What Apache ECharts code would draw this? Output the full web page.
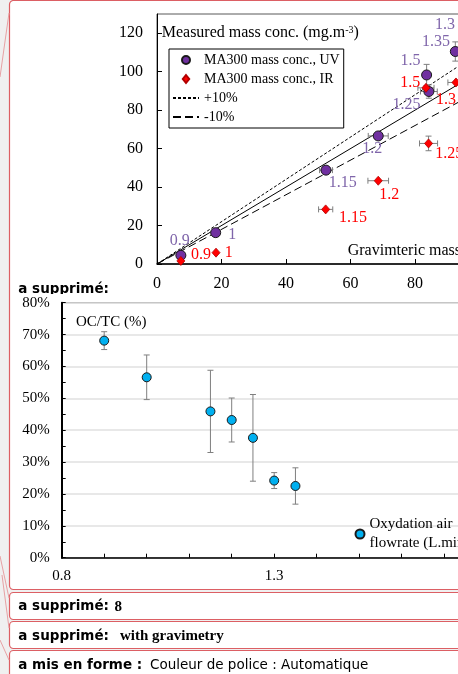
<!DOCTYPE html>
<html><head><meta charset="utf-8">
<script src="https://cdn.jsdelivr.net/npm/echarts@6/dist/echarts.min.js"></script>
<style>html,body{margin:0;padding:0;background:#f0f0f0}#c{width:458px;height:674px}</style>
</head><body><div id="c"></div>
<script>
// ---- Data: chart 1 (MA300 vs gravimetry) ----
const uvFlow    = [0.9, 1, 1.15, 1.2, 1.25, 1.3, 1.35, 1.5];
const uvGrav    = [7.4, 18.2, 52.4, 68.6, 84.3, 96.5, 92.5, 83.6];
const uvMeas    = [4.5, 16.3, 48.8, 66.6, 89.7, 117.5, 110.5, 98.3];
const uvGravErr = [0, 0, 2.0, 3.1, 2.6, 0, 0, 0];
const uvMeasErr = [0, 0, 0, 0, 3.5, 0, 5, 5.5];

const irFlow    = [0.9, 1, 1.15, 1.2, 1.25, 1.3, 1.5];
const irGrav    = [7.4, 18.3, 52.3, 68.6, 84.2, 92.7, 83.4];
const irMeas    = [1.6, 5.9, 28.4, 43.3, 62.7, 94.4, 91.6];
const irGravErr = [0, 0, 2.2, 3.2, 2.8, 2.5, 2.5];
const irMeasErr = [0, 0, 0, 0, 3.8, 0, 0];

const refLineX  = [0, 130];
const ratioPlus = 1.1, ratioMinus = 0.9;

// ---- Data: chart 2 (OC/TC vs flowrate) ----
const flowrate = [0.9, 1.0, 1.15, 1.2, 1.25, 1.3, 1.35];
const ocTc     = [68.1, 56.6, 45.9, 43.2, 37.6, 24.2, 22.5];
const ocTcErr  = [2.8, 7.0, 12.9, 6.9, 13.6, 2.5, 5.7];

// ---- label placement (style) ----
const uvLabelOffset = [[-1,-14.6],[16.6,2.3],[16.7,12.7],[-6,12.6],[-22.3,13.7],[-23.2,-12.8],[-19.3,-9.6],[-16,-13.7]];
const irLabelOffset = [[20.2,-6],[12.8,0.6],[27.3,8.4],[11,13.6],[20.6,10],[-10,17.7],[-15.8,-5.4]];

const SERIF = 'Liberation Serif';
const UVN = 'MA300 mass conc., UV', IRN = 'MA300 mass conc., IR';
const OCN = 'Oxydation air\nflowrate (L.min-1)';
const HIDE = {color:'rgba(0,0,0,0)', borderWidth:0, borderColor:'rgba(0,0,0,0)'};

function errRender(params, api){
  const x=api.value(0), y=api.value(1), ex=api.value(2), ey=api.value(3);
  const st={stroke:'#7f7f7f', lineWidth:1};
  const cap=3, ch=[];
  if(ex>0){
    const a=api.coord([x-ex,y]), b=api.coord([x+ex,y]);
    ch.push({type:'line',shape:{x1:a[0],y1:a[1],x2:b[0],y2:b[1]},style:st});
    ch.push({type:'line',shape:{x1:a[0],y1:a[1]-cap,x2:a[0],y2:a[1]+cap},style:st});
    ch.push({type:'line',shape:{x1:b[0],y1:b[1]-cap,x2:b[0],y2:b[1]+cap},style:st});
  }
  if(ey>0){
    const a=api.coord([x,y-ey]), b=api.coord([x,y+ey]);
    ch.push({type:'line',shape:{x1:a[0],y1:a[1],x2:b[0],y2:b[1]},style:st});
    ch.push({type:'line',shape:{x1:a[0]-cap,y1:a[1],x2:a[0]+cap,y2:a[1]},style:st});
    ch.push({type:'line',shape:{x1:b[0]-cap,y1:b[1],x2:b[0]+cap,y2:b[1]},style:st});
  }
  return {type:'group', children:ch};
}

const axisTxt = {color:'#000', fontFamily:SERIF};
const chart = echarts.init(document.getElementById('c'), null, {renderer:'canvas'});
const box = (y,h)=>({type:'rect', z:-100, shape:{x:9.5,y:y,width:470,height:h,r:4}, style:{fill:'#fff', stroke:'#dc5f64', lineWidth:1.2}});
const ann = (x,y,t,font,z)=>({type:'text', z:z, x:x, y:y, style:{text:t, fill:'#000', font:font, verticalAlign:'middle'}});
const conn = (x1,y1,x2,y2)=>({type:'line', z:-90, shape:{x1,y1,x2,y2}, style:{stroke:'#e7a1a4', lineWidth:1}});

chart.setOption({
  backgroundColor:'#f0f0f0',
  animation:false,
  grid:[
    {left:157, top:14, width:387, height:250, show:true, borderColor:'#595959', borderWidth:1, outerBoundsMode:'none', containLabel:false},
    {left:61.7, top:302.7, width:425, height:255, show:true, borderColor:'#595959', borderWidth:1, outerBoundsMode:'none', containLabel:false}
  ],
  xAxis:[
    {type:'value', gridIndex:0, min:0, max:120, interval:20,
     axisLine:{show:true, lineStyle:{color:'#000', width:1.5}},
     axisTick:{show:true, inside:true, length:5, lineStyle:{color:'#000'}},
     axisLabel:Object.assign({fontSize:16, margin:12}, axisTxt),
     splitLine:{show:false}},
    {type:'value', gridIndex:1, min:0.8, max:1.8, interval:0.1,
     axisLine:{show:true, lineStyle:{color:'#000', width:1.5}},
     axisTick:{show:true, inside:true, length:4, lineStyle:{color:'#000'}},
     axisLabel:Object.assign({fontSize:15, margin:11, formatter:v=>{const r=Math.round(v*10);return (r-8)%5===0?(r/10).toFixed(1):'';}}, axisTxt),
     splitLine:{show:false}}
  ],
  yAxis:[
    {type:'value', gridIndex:0, min:0, max:130, interval:20,
     axisLine:{show:true, lineStyle:{color:'#000', width:1}},
     axisTick:{show:true, inside:true, length:5, lineStyle:{color:'#000'}},
     axisLabel:Object.assign({fontSize:16, margin:14, showMaxLabel:false}, axisTxt),
     splitLine:{show:false}},
    {type:'value', gridIndex:1, min:0, max:80, interval:10,
     axisLine:{show:true, lineStyle:{color:'#000', width:2}},
     axisTick:{show:true, inside:true, length:4, lineStyle:{color:'#000'}},
     minorTick:{show:true, splitNumber:2, length:4, lineStyle:{color:'#000'}},
     axisLabel:Object.assign({fontSize:15, margin:12, formatter:'{value}%'}, axisTxt),
     splitLine:{show:true, lineStyle:{color:'#e0e0e0', width:1.5}}}
  ],
  legend:[
    {data:[
       {name:UVN, icon:'circle'},
       {name:IRN, icon:'path://M5,0L9,5L5,10L1,5Z'},
       {name:'+10%', itemStyle:HIDE},
       {name:'-10%', itemStyle:HIDE}],
     orient:'vertical', left:169, top:49, symbolKeepAspect:true,
     padding:[4,4,4,3], itemWidth:26, itemHeight:8, itemGap:5,
     borderColor:'#000', borderWidth:1, backgroundColor:'#fff',
     textStyle:{fontFamily:SERIF, fontSize:14, color:'#000', lineHeight:14}},
    {data:[{name:OCN, icon:'circle'}], left:354.5, top:515, padding:0, itemWidth:9, itemHeight:9,
     formatter:()=> 'Oxydation air\nflowrate (L.min{sup|-1})',
     textStyle:{fontFamily:SERIF, fontSize:15, color:'#000', lineHeight:19,
       rich:{sup:{fontFamily:SERIF, fontSize:9, color:'#000', verticalAlign:'top', lineHeight:19}}}}
  ],
  series:[
    {type:'custom', name:'uvErr', xAxisIndex:0, yAxisIndex:0, clip:true, z:3, renderItem:errRender,
     encode:{x:0,y:1}, data:uvFlow.map((f,i)=>[uvGrav[i],uvMeas[i],uvGravErr[i],uvMeasErr[i]])},
    {type:'custom', name:'irErr', xAxisIndex:0, yAxisIndex:0, clip:true, z:3, renderItem:errRender,
     encode:{x:0,y:1}, data:irFlow.map((f,i)=>[irGrav[i],irMeas[i],irGravErr[i],irMeasErr[i]])},
    {type:'line', name:'1:1', xAxisIndex:0, yAxisIndex:0, symbol:'none', clip:true, z:2,
     lineStyle:{color:'#000', width:1}, data:refLineX.map(x=>[x,x])},
    {type:'line', name:'+10%', xAxisIndex:0, yAxisIndex:0, symbol:'none', clip:true, z:2,
     lineStyle:{color:'#000', width:1, type:[3,2]}, itemStyle:{color:'#000'}, data:refLineX.map(x=>[x,x*ratioPlus])},
    {type:'line', name:'-10%', xAxisIndex:0, yAxisIndex:0, symbol:'none', clip:true, z:2,
     lineStyle:{color:'#000', width:1, type:[8,4]}, itemStyle:{color:'#000'}, data:refLineX.map(x=>[x,x*ratioMinus])},
    {type:'scatter', name:UVN, xAxisIndex:0, yAxisIndex:0, symbol:'circle', symbolSize:10, z:4,
     itemStyle:{color:'#7030a0', borderColor:'#1a1a1a', borderWidth:1, opacity:1},
     label:{show:true, position:'inside', align:'center', verticalAlign:'middle', color:'#7f65aa',
            fontFamily:SERIF, fontSize:16, formatter:p=>String(p.value[2])},
     data:uvFlow.map((f,i)=>({value:[uvGrav[i],uvMeas[i],f], label:{offset:uvLabelOffset[i]}}))},
    {type:'scatter', name:IRN, xAxisIndex:0, yAxisIndex:0, symbol:'diamond', symbolSize:[8,9], z:4,
     itemStyle:{color:'#ff0000', borderColor:'#b00000', borderWidth:0.8, opacity:1},
     label:{show:true, position:'inside', align:'center', verticalAlign:'middle', color:'#ff0000',
            fontFamily:SERIF, fontSize:16, formatter:p=>String(p.value[2])},
     data:irFlow.map((f,i)=>({value:[irGrav[i],irMeas[i],f], label:{offset:irLabelOffset[i]}}))},
    {type:'custom', name:'ocErr', xAxisIndex:1, yAxisIndex:1, clip:true, z:3, renderItem:errRender,
     encode:{x:0,y:1}, data:flowrate.map((f,i)=>[f,ocTc[i],0,ocTcErr[i]])},
    {type:'scatter', name:OCN, xAxisIndex:1, yAxisIndex:1, symbol:'circle', symbolSize:9, z:4,
     itemStyle:{color:'#00b0f0', borderColor:'#1a1a1a', borderWidth:1, opacity:1},
     data:flowrate.map((f,i)=>[f,ocTc[i]])}
  ],
  graphic:[
    box(0.5,589), box(592.5,27), box(621.5,27), box(650.5,40),
    conn(9,13,0,77), conn(0,556,9,598), conn(2,575,9,628), conn(0,640,9,660),
    ann(18.3,289.5,'a supprimé:','bold 13.5px "DejaVu Sans"',-60),
    {type:'rect', z:-55, shape:{x:14,y:294,width:120,height:5}, style:{fill:'#fff'}},
    ann(18.3,606.7,'a supprimé:','bold 13.5px "DejaVu Sans"',-50),
    ann(114.5,606.7,'8','bold 15px "Liberation Serif"',-50),
    ann(18.3,636,'a supprimé:','bold 13.5px "DejaVu Sans"',-50),
    ann(120,636,'with gravimetry','bold 15px "Liberation Serif"',-50),
    ann(18.3,665,'a mis en forme :','bold 13.5px "DejaVu Sans"',-50),
    ann(150,665,'Couleur de police : Automatique','13.5px "DejaVu Sans"',-50),
    {type:'text', z:5, x:161.7, y:33, style:{text:'Measured mass conc. (mg.m{sup|-3})', fill:'#000',
      fontFamily:SERIF, fontSize:16, verticalAlign:'middle', lineHeight:16,
      rich:{sup:{fontFamily:SERIF, fontSize:10, verticalAlign:'top', lineHeight:16}}}},
    {type:'text', z:5, x:347.7, y:251, style:{text:'Gravimteric mass conc. (mg.m{sup|-3})', fill:'#000',
      fontFamily:SERIF, fontSize:16, verticalAlign:'middle', lineHeight:16,
      rich:{sup:{fontFamily:SERIF, fontSize:10, verticalAlign:'top', lineHeight:16}}}},
    {type:'text', z:5, x:76, y:322, style:{text:'OC/TC (%)', fill:'#000', fontFamily:SERIF, fontSize:15, verticalAlign:'middle'}}
  ]
});
</script></body></html>
